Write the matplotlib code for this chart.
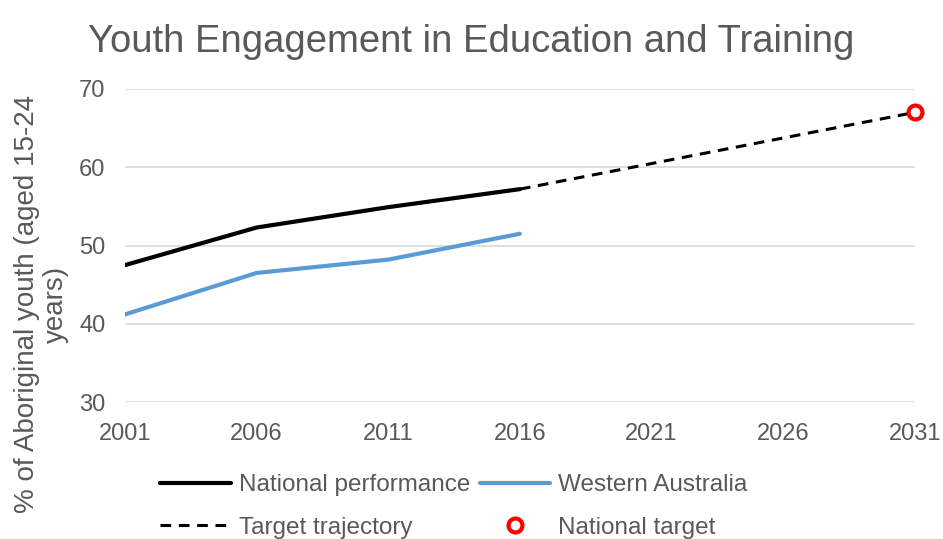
import matplotlib.pyplot as plt

plt.rcParams['font.family'] = ['Liberation Sans', 'DejaVu Sans']

TEXT = "#595959"
GRID = "#d9d9d9"

years = [2001, 2006, 2011, 2016]
national = [47.5, 52.3, 54.9, 57.2]
western_australia = [41.2, 46.5, 48.2, 51.5]
target_years = [2016, 2031]
target_values = [57.2, 67.0]
national_target_year = [2031]
national_target = [67.0]
x_ticks = [2001, 2006, 2011, 2016, 2021, 2026, 2031]
y_ticks = [30, 40, 50, 60, 70]

fig = plt.figure(figsize=(9.43, 5.39), dpi=100)
ax = fig.add_axes([0.1326, 0.254, 0.8374, 0.581])

nat, = ax.plot(years, national, color="black", lw=3, label="National performance", solid_capstyle="round")
wa, = ax.plot(years, western_australia, color="#5b9bd5", lw=3, label="Western Australia", solid_capstyle="round")
traj, = ax.plot(target_years, target_values, color="black", lw=2.2, ls=(0, (3.5, 2.5)), label="Target trajectory")
tgt, = ax.plot(national_target_year, national_target, 'o', ms=10, mfc="white", mec="#ff0000", mew=3,
               label="National target", clip_on=False, zorder=5)

ax.set_xlim(2001, 2031)
ax.set_ylim(30, 70)
ax.set_xticks(x_ticks)
ax.set_yticks(y_ticks)
ax.grid(axis="y", color=GRID, lw=1.2)
ax.set_axisbelow(True)
for s in ax.spines.values():
    s.set_visible(False)
ax.tick_params(length=0, labelsize=17, labelcolor=TEXT)
ax.tick_params(axis="x", pad=15)
ax.tick_params(axis="y", pad=14)

# y label drawn as figure text so it can be placed exactly
fig.text(0.0435, 0.436, "% of Aboriginal youth (aged 15-24\nyears)", rotation=90, ha="center", va="center",
         fontsize=20, color=TEXT, linespacing=1.15, multialignment="center")
fig.text(0.5, 1 - 52 / 539, "Youth Engagement in Education and Training", fontsize=27.5, color=TEXT,
         ha="center", va="baseline")

# order so the 2-column legend reads row by row
fig.legend([nat, traj, wa, tgt], [nat.get_label(), traj.get_label(), wa.get_label(), tgt.get_label()],
           loc="lower left", bbox_to_anchor=(0.170, 0.0), ncol=2, frameon=False, fontsize=17.5,
           labelcolor=TEXT, handlelength=2.9, handletextpad=0.33, columnspacing=0.4,
           labelspacing=0.85, borderpad=0, borderaxespad=0)

fig.savefig("out.png", dpi=100)
